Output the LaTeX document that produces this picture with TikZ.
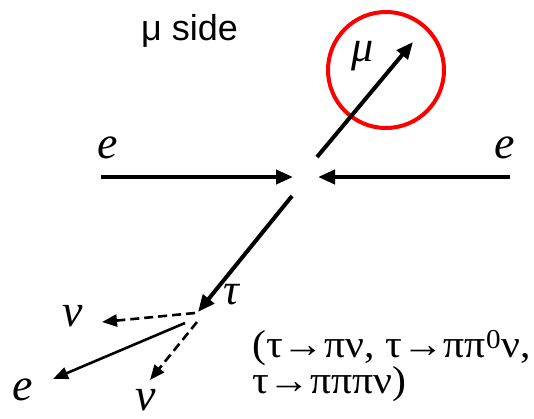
\documentclass[tikz,border=0pt]{standalone}
\usepackage{fontspec}
\setmainfont{Liberation Serif}
\newfontfamily\arialfont{Liberation Sans}
\usetikzlibrary{arrows.meta}
\definecolor{RingRed}{HTML}{FF0000}
\newcommand{\widetext}[1]{\scalebox{1.07}[1]{#1}}
\tikzset{
  track/.style={line width=4pt, -{Triangle[length=17pt,width=14pt]}},
  thintrack/.style={line width=2.6pt, -{Triangle[length=15pt,width=12pt]}},
  nutrack/.style={thintrack, dash pattern=on 9pt off 5pt},
  particle/.style={font=\fontsize{46}{46}\selectfont\itshape, inner sep=0pt},
  decaytext/.style={font=\fontsize{39}{31}\selectfont, inner sep=0pt, align=left, anchor=north west},
}

\begin{document}
\begin{tikzpicture}[x=1pt, y=-1pt]
  \useasboundingbox (0,0) rectangle (534,419);
  % title
  \node[font=\arialfont\fontsize{36}{36}\selectfont, inner sep=0pt, anchor=base west] (side) at (141,41) {μ side};
  % beams
  \coordinate (eLtail) at (101,177);
  \coordinate (eLtip) at (293,177);
  \coordinate (eRtail) at (510,177);
  \coordinate (eRtip) at (318,177);
  \node[particle] (eL) at (108,148) {e};
  \node[particle] (eR) at (505,148) {e};
  \draw[track] (eLtail) -- (eLtip);
  \draw[track] (eRtail) -- (eRtip);
  % muon, tagged
  \node[circle, draw=RingRed, line width=4pt, minimum size=116pt, inner sep=0pt] (ring) at (386,70) {};
  \coordinate (mutail) at (317,157);
  \coordinate (mutip) at (413,42);
  \draw[track] (mutail) -- (mutip);
  \node[particle, font=\fontsize{44}{44}\selectfont\itshape] (mu) at (363,56) {μ};
  % tau and its decay
  \coordinate (tautail) at (292,196);
  \coordinate (tautip) at (198,312);
  \draw[track] (tautail) -- (tautip);
  \node[particle, font=\fontsize{44}{44}\selectfont\itshape] (tau) at (231,295) {τ};
  \coordinate (nuAtail) at (195,313);
  \coordinate (nuAtip) at (102,322);
  \coordinate (eDtail) at (185,323);
  \coordinate (eDtip) at (53,379);
  \coordinate (nuBtail) at (197,322);
  \coordinate (nuBtip) at (150,380);
  \draw[nutrack] (nuAtail) -- (nuAtip);
  \draw[thintrack] (eDtail) -- (eDtip);
  \draw[nutrack] (nuBtail) -- (nuBtip);
  \node[particle] (nuA) at (73,316) {ν};
  \node[particle] (eD) at (23,390) {e};
  \node[particle] (nuB) at (146,400) {ν};
  % hadronic modes
  \node[decaytext] (modes) at (252,330) {\widetext{(τ→πν, τ→ππ\textsuperscript{0}ν,}\\\widetext{τ→πππν)}};
\end{tikzpicture}
\end{document}
